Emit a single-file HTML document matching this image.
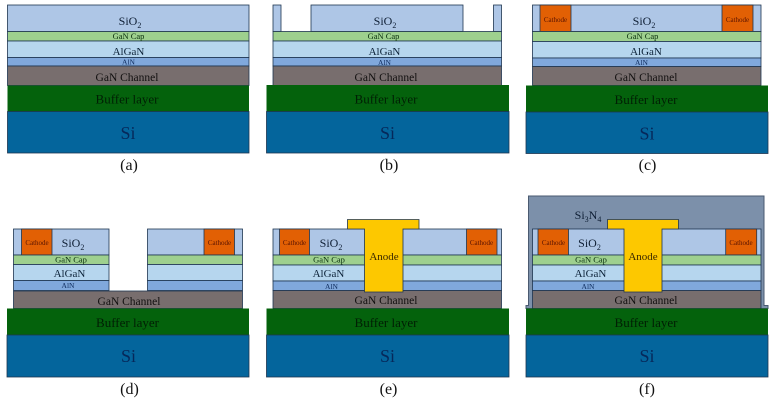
<!DOCTYPE html>
<html>
<head>
<meta charset="utf-8">
<style>
html,body{margin:0;padding:0;background:#fff;width:774px;height:401px;overflow:hidden}
svg{display:block;font-family:"Liberation Serif",serif;filter:blur(.35px)}
.l{stroke:#1f3550;stroke-width:.8}
text{text-anchor:middle}
.sio{fill:#aec6e6}.cap{fill:#9ed08e}.alg{fill:#b6d6ee}.aln{fill:#80a8dc}.gan{fill:#786e6e}.buf{fill:#04620c}.si{fill:#04659c}
.cat{fill:#e26004}
.ano{fill:#fdc800}
.t-si{font-size:18px;fill:#06285a}.t-buf{font-size:13px;fill:#011f04}.t-gan{font-size:11.500px;fill:#121010}
.t-alg{font-size:11px;fill:#0c2238}.t-aln{font-size:7.500px;fill:#102e60}.t-cap{font-size:8.500px;fill:#082e0c}
.t-sio{font-size:12px;fill:#0e1e34}.t-cat{font-size:7px;fill:#5a1402}.t-ano{font-size:11px;fill:#3a2800}.t-lab{font-size:16px;fill:#111}
</style>
</head>
<body>
<svg width="774" height="401" viewBox="0 0 774 401" xmlns="http://www.w3.org/2000/svg">
<!-- (a) -->
<g>
<rect class="l sio" x="7.500" y="5" width="241.500" height="26.500"/>
<rect class="l cap" x="7.500" y="31.500" width="241.500" height="9.500"/>
<rect class="l alg" x="7.500" y="41" width="241.500" height="16.500"/>
<rect class="l aln" x="7.500" y="57.500" width="241.500" height="8.500"/>
<rect class="l gan" x="7.500" y="66" width="241.500" height="19.500"/>
<rect class="buf" x="7.500" y="85.500" width="241.500" height="26"/>
<rect class="l si" x="7.500" y="111.500" width="241.500" height="41.500"/>
<text class="t-sio" x="130" y="25">SiO<tspan font-size="8" dy="3">2</tspan></text>
<text class="t-cap" x="128.500" y="39">GaN Cap</text>
<text class="t-alg" x="128.500" y="55">AlGaN</text>
<text class="t-aln" x="128.500" y="64.500">AlN</text>
<text class="t-gan" x="127" y="81">GaN Channel</text>
<text class="t-buf" x="127" y="103.500">Buffer layer</text>
<text class="t-si" x="128" y="139">Si</text>
<text class="t-lab" x="129" y="170">(a)</text>
</g>
<!-- (b) -->
<g>
<rect class="l sio" x="273" y="5" width="8" height="26.500"/>
<rect class="l sio" x="311" y="5" width="152" height="26.500"/>
<rect class="l sio" x="493.500" y="5" width="8" height="26.500"/>
<rect class="l cap" x="273" y="31.500" width="228.500" height="9.500"/>
<rect class="l alg" x="273" y="41" width="228.500" height="16.500"/>
<rect class="l aln" x="273" y="57.500" width="228.500" height="8.500"/>
<rect class="l gan" x="273" y="66" width="228.500" height="19.500"/>
<rect class="buf" x="266.500" y="85" width="242.500" height="26.500"/>
<rect class="l si" x="266.500" y="111.500" width="242.500" height="41.500"/>
<text class="t-sio" x="385" y="25">SiO<tspan font-size="8" dy="3">2</tspan></text>
<text class="t-cap" x="383.500" y="39">GaN Cap</text>
<text class="t-alg" x="384.500" y="55">AlGaN</text>
<text class="t-aln" x="384.500" y="65">AlN</text>
<text class="t-gan" x="386" y="81">GaN Channel</text>
<text class="t-buf" x="386" y="103.500">Buffer layer</text>
<text class="t-si" x="387.500" y="139">Si</text>
<text class="t-lab" x="389" y="170">(b)</text>
</g>
<!-- (c) -->
<g>
<rect class="l sio" x="532.500" y="5" width="228.500" height="26.500"/>
<rect class="l cat" x="540" y="5" width="31" height="26.500"/>
<rect class="l cat" x="722" y="5" width="31" height="26.500"/>
<rect class="l cap" x="532.500" y="31.500" width="228.500" height="10"/>
<rect class="l alg" x="532.500" y="41.500" width="228.500" height="16.500"/>
<rect class="l aln" x="532.500" y="58" width="228.500" height="8.500"/>
<rect class="l gan" x="532.500" y="66.500" width="228.500" height="19"/>
<rect class="buf" x="526" y="85.500" width="242" height="26.500"/>
<rect class="l si" x="526" y="112" width="242" height="41.500"/>
<text class="t-cat" x="555.500" y="22">Cathode</text>
<text class="t-cat" x="737.500" y="22">Cathode</text>
<text class="t-sio" x="644" y="25">SiO<tspan font-size="8" dy="3">2</tspan></text>
<text class="t-cap" x="642.500" y="39">GaN Cap</text>
<text class="t-alg" x="646" y="55">AlGaN</text>
<text class="t-aln" x="641.500" y="65">AlN</text>
<text class="t-gan" x="646" y="81">GaN Channel</text>
<text class="t-buf" x="646" y="104">Buffer layer</text>
<text class="t-si" x="647" y="139.500">Si</text>
<text class="t-lab" x="647.500" y="170">(c)</text>
</g>
<!-- (d) -->
<g>
<rect class="l sio" x="13.500" y="229" width="95.500" height="26"/>
<rect class="l sio" x="147.500" y="229" width="95" height="26"/>
<rect class="l cat" x="21.500" y="229" width="30.500" height="26"/>
<rect class="l cat" x="204" y="229" width="30.500" height="26"/>
<rect class="l cap" x="13.500" y="255" width="95.500" height="9.500"/>
<rect class="l cap" x="147.500" y="255" width="95" height="9.500"/>
<rect class="l alg" x="13.500" y="264.500" width="95.500" height="16"/>
<rect class="l alg" x="147.500" y="264.500" width="95" height="16"/>
<rect class="l aln" x="13.500" y="280.500" width="95.500" height="10"/>
<rect class="l aln" x="147.500" y="280.500" width="95" height="10"/>
<rect class="l gan" x="13.500" y="291" width="229" height="17.500"/>
<rect class="buf" x="7" y="308.500" width="242" height="26.500"/>
<rect class="l si" x="7" y="335" width="242" height="42"/>
<text class="t-cat" x="37" y="245">Cathode</text>
<text class="t-cat" x="219.500" y="245">Cathode</text>
<text class="t-sio" x="73" y="247">SiO<tspan font-size="8" dy="3">2</tspan></text>
<text class="t-cap" x="71" y="262.500">GaN Cap</text>
<text class="t-alg" x="69.500" y="277">AlGaN</text>
<text class="t-aln" x="68" y="288">AlN</text>
<text class="t-gan" x="129" y="305">GaN Channel</text>
<text class="t-buf" x="127.500" y="327">Buffer layer</text>
<text class="t-si" x="128.500" y="362">Si</text>
<text class="t-lab" x="129.500" y="394">(d)</text>
</g>
<!-- (e) -->
<g>
<rect class="l sio" x="273" y="229" width="228.500" height="26"/>
<rect class="l cat" x="279.500" y="229" width="30" height="26"/>
<rect class="l cat" x="466.500" y="229" width="30.500" height="26"/>
<rect class="l cap" x="273" y="255" width="228.500" height="10"/>
<rect class="l alg" x="273" y="265" width="228.500" height="16"/>
<rect class="l aln" x="273" y="281" width="228.500" height="9.500"/>
<rect class="l gan" x="273" y="290.500" width="228.500" height="18"/>
<rect class="buf" x="266.500" y="308.500" width="242.500" height="26.500"/>
<rect class="l si" x="266.500" y="335" width="242.500" height="42"/>
<path class="l ano" d="M347.500 219.500H419V229H403V292H364.500V229H347.500Z"/>
<text class="t-cat" x="294.500" y="245">Cathode</text>
<text class="t-cat" x="481.500" y="245">Cathode</text>
<text class="t-sio" x="331" y="247">SiO<tspan font-size="8" dy="3">2</tspan></text>
<text class="t-cap" x="329" y="262.500">GaN Cap</text>
<text class="t-alg" x="328.500" y="277">AlGaN</text>
<text class="t-aln" x="331.500" y="289">AlN</text>
<text class="t-ano" x="384" y="260">Anode</text>
<text class="t-gan" x="386" y="304">GaN Channel</text>
<text class="t-buf" x="386" y="327">Buffer layer</text>
<text class="t-si" x="387.500" y="362">Si</text>
<text class="t-lab" x="388.500" y="394">(e)</text>
</g>
<!-- (f) -->
<g>
<path fill="#7c90aa" stroke="#4a5a70" stroke-width="1" d="M528.500 196H764V305.500H768V308.500H526V305.500H528.500Z"/>
<rect class="l sio" x="532.500" y="229" width="228.500" height="26"/>
<rect class="l cat" x="538" y="229" width="30.500" height="26"/>
<rect class="l cat" x="725.700" y="229" width="31" height="26"/>
<rect class="l cap" x="532.500" y="255" width="228.500" height="10"/>
<rect class="l alg" x="532.500" y="265" width="228.500" height="16"/>
<rect class="l aln" x="532.500" y="281" width="228.500" height="9.500"/>
<rect class="l gan" x="532.500" y="290.500" width="228.500" height="18"/>
<rect class="buf" x="526" y="308.500" width="242" height="26.500"/>
<rect class="l si" x="526" y="335" width="242" height="42"/>
<path class="l ano" d="M607.500 219.500H678.500V229H662V292H624V229H607.500Z"/>
<text x="588" y="219" font-size="12" fill="#0e1e34">Si<tspan font-size="8" dy="3">3</tspan><tspan dy="-3">N</tspan><tspan font-size="8" dy="3">4</tspan></text>
<text class="t-cat" x="553.500" y="245">Cathode</text>
<text class="t-cat" x="741" y="245">Cathode</text>
<text class="t-sio" x="589.500" y="247">SiO<tspan font-size="8" dy="3">2</tspan></text>
<text class="t-cap" x="591" y="262.500">GaN Cap</text>
<text class="t-alg" x="590.500" y="277">AlGaN</text>
<text class="t-aln" x="588" y="289">AlN</text>
<text class="t-ano" x="643" y="260">Anode</text>
<text class="t-gan" x="646" y="304">GaN Channel</text>
<text class="t-buf" x="646" y="327">Buffer layer</text>
<text class="t-si" x="647" y="362">Si</text>
<text class="t-lab" x="647" y="394">(f)</text>
</g>
</svg>
</body>
</html>
